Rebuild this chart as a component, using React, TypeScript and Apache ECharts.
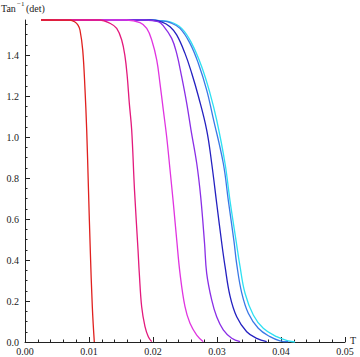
import React, { useEffect, useRef } from "react";
import * as echarts from "echarts";

const HALF_PI = 1.5708;

const xTickValues = [0, 0.01, 0.02, 0.03, 0.04, 0.05];
const xMinorValues = [
  0.002, 0.004, 0.006, 0.008, 0.012, 0.014, 0.016, 0.018, 0.022, 0.024, 0.026, 0.028,
  0.032, 0.034, 0.036, 0.038, 0.042, 0.044, 0.046, 0.048,
];
const yTickValues = [0, 0.2, 0.4, 0.6, 0.8, 1.0, 1.2, 1.4];
const yMinorValues = [
  0.05, 0.1, 0.15, 0.25, 0.3, 0.35, 0.45, 0.5, 0.55, 0.65, 0.7, 0.75, 0.85, 0.9, 0.95,
  1.05, 1.1, 1.15, 1.25, 1.3, 1.35, 1.45, 1.5, 1.55,
];

const curveRed = [
  [0.0025, 1.5708], [0.00703, 1.5705], [0.00781, 1.561], [0.00828, 1.546], [0.00859, 1.522],
  [0.00902, 1.424], [0.00938, 1.229], [0.00964, 1.034], [0.00992, 0.741], [0.0102, 0.449],
  [0.01052, 0.171], [0.01083, 0],
];
const curvePink = [
  [0.0025, 1.5708], [0.01172, 1.5708], [0.01328, 1.555], [0.01433, 1.53], [0.01511, 1.473],
  [0.01563, 1.392], [0.01598, 1.294], [0.0163, 1.164], [0.01667, 1.034], [0.01711, 0.741],
  [0.01766, 0.449], [0.01786, 0.335], [0.01823, 0.172], [0.01875, 0.075], [0.01927, 0.026],
  [0.0198, 0.0015],
];
const curveMagenta = [
  [0.0025, 1.5708], [0.01589, 1.5708], [0.01797, 1.558], [0.01902, 1.53], [0.0198, 1.473],
  [0.02058, 1.376], [0.02109, 1.262], [0.02161, 1.132], [0.02214, 1.0], [0.02266, 0.84],
  [0.0232, 0.67], [0.0237, 0.5], [0.02422, 0.335], [0.025, 0.172], [0.02578, 0.091],
  [0.02683, 0.034], [0.02786, 0.0015],
];
const curvePurple = [
  [0.0025, 1.5708], [0.01875, 1.5708], [0.0208, 1.563], [0.02156, 1.545], [0.02292, 1.481],
  [0.0237, 1.408], [0.02448, 1.294], [0.02527, 1.164], [0.02594, 1.034], [0.02683, 0.872],
  [0.02745, 0.709], [0.02805, 0.483], [0.02839, 0.335], [0.02917, 0.205], [0.02995, 0.123],
  [0.03098, 0.059], [0.0323, 0.018], [0.0336, 0.0015],
];
const curveNavy = [
  [0.0025, 1.5708], [0.01953, 1.5708], [0.02141, 1.561], [0.02266, 1.538], [0.0237, 1.498],
  [0.025, 1.408], [0.02605, 1.311], [0.02708, 1.2], [0.02839, 1.034], [0.02917, 0.872],
  [0.02995, 0.677], [0.03078, 0.473], [0.03125, 0.37], [0.03203, 0.225], [0.03308, 0.123],
  [0.03464, 0.05], [0.0362, 0.018], [0.03777, 0.0015],
];
const curveBlue = [
  [0.0025, 1.5708], [0.01953, 1.5708], [0.02141, 1.566], [0.02266, 1.558], [0.02422, 1.53],
  [0.02578, 1.457], [0.02708, 1.36], [0.02839, 1.229], [0.02942, 1.09],
  [0.03098, 0.872], [0.03177, 0.69], [0.03266, 0.49], [0.03308, 0.38], [0.03386, 0.24],
  [0.03489, 0.14], [0.03645, 0.067], [0.03828, 0.026], [0.03984, 0.006], [0.04114, 0.0015],
];
const curveCyan = [
  [0.0025, 1.5708], [0.01953, 1.5708], [0.02109, 1.567], [0.02266, 1.562], [0.02448, 1.53],
  [0.02605, 1.457], [0.02761, 1.343], [0.02891, 1.213], [0.02995, 1.083],
  [0.03125, 0.872], [0.03203, 0.69], [0.033, 0.49], [0.03359, 0.37], [0.03438, 0.238],
  [0.03567, 0.132], [0.03723, 0.067], [0.03933, 0.026], [0.04114, 0.005], [0.04219, 0],
];

// drawn first to last; red ends up on top
const curves = [
  { name: "c7", data: curveCyan, color: "#2ee0f2" },
  { name: "c6", data: curveBlue, color: "#3a78e6" },
  { name: "c5", data: curveNavy, color: "#2420c0" },
  { name: "c4", data: curvePurple, color: "#8a2ee6" },
  { name: "c3", data: curveMagenta, color: "#e034e0" },
  { name: "c2", data: curvePink, color: "#e3197c" },
  { name: "c1", data: curveRed, color: "#e0201e" },
];

const FONT = "'Liberation Serif', 'DejaVu Serif', serif";
const INK = "#222";

export default function App() {
  const ref = useRef<HTMLDivElement>(null);
  useEffect(() => {
    if (!ref.current) return;
    const chart = echarts.init(ref.current, undefined, { renderer: "svg" });
    chart.setOption({
      animation: false,
      backgroundColor: "#fff",
      grid: { left: 25, right: 15, top: 20, bottom: 15, containLabel: false },
      graphic: [
        { type: "text", left: 1, top: 3, style: { text: "Tan", font: `10px ${FONT}`, fill: INK } },
        { type: "text", left: 17, top: 0, style: { text: "−1", font: `7px ${FONT}`, fill: INK } },
        { type: "text", left: 26, top: 3, style: { text: "(det)", font: `10px ${FONT}`, fill: INK } },
      ],
      xAxis: [
        {
          type: "value",
          min: 0,
          max: 0.05,
          interval: 0.01,
          name: "T",
          nameLocation: "end",
          nameGap: 5,
          nameTextStyle: { fontFamily: FONT, fontSize: 10, color: INK, verticalAlign: "bottom", padding: [0, 0, -3, 0] },
          axisLine: { lineStyle: { color: INK, width: 1 } },
          axisTick: { show: true, inside: true, length: 5, lineStyle: { color: INK }, customValues: xTickValues },
          axisLabel: {
            fontFamily: FONT,
            fontSize: 10,
            color: INK,
            margin: 4,
            customValues: xTickValues,
            formatter: (v: number) => v.toFixed(2),
          },
          splitLine: { show: false },
        },
        {
          type: "value",
          min: 0,
          max: 0.05,
          position: "bottom",
          axisLine: { show: false },
          axisTick: { show: true, inside: true, length: 2.5, lineStyle: { color: INK }, customValues: xMinorValues },
          axisLabel: { show: false },
          splitLine: { show: false },
        },
      ],
      yAxis: [
        {
          type: "value",
          min: 0,
          max: HALF_PI,
          axisLine: { show: true, lineStyle: { color: INK, width: 1 } },
          axisTick: { show: true, inside: true, length: 5, lineStyle: { color: INK }, customValues: yTickValues },
          axisLabel: {
            fontFamily: FONT,
            fontSize: 10,
            color: INK,
            margin: 6,
            customValues: yTickValues,
            formatter: (v: number) => v.toFixed(1),
          },
          splitLine: { show: false },
        },
        {
          type: "value",
          min: 0,
          max: HALF_PI,
          position: "left",
          axisLine: { show: false },
          axisTick: { show: true, inside: true, length: 2.5, lineStyle: { color: INK }, customValues: yMinorValues },
          axisLabel: { show: false },
          splitLine: { show: false },
        },
      ],
      series: curves.map((c) => ({
        type: "line",
        name: c.name,
        data: c.data,
        xAxisIndex: 0,
        yAxisIndex: 0,
        showSymbol: false,
        symbol: "none",
        smooth: 0.4,
        clip: false,
        lineStyle: { color: c.color, width: 1.3 },
        itemStyle: { color: c.color },
      })),
    });
    return () => chart.dispose();
  }, []);
  return (
    <div
      ref={ref}
      style={{ position: "fixed", left: 0, top: 0, width: 360, height: 357, background: "#fff" }}
    />
  );
}
